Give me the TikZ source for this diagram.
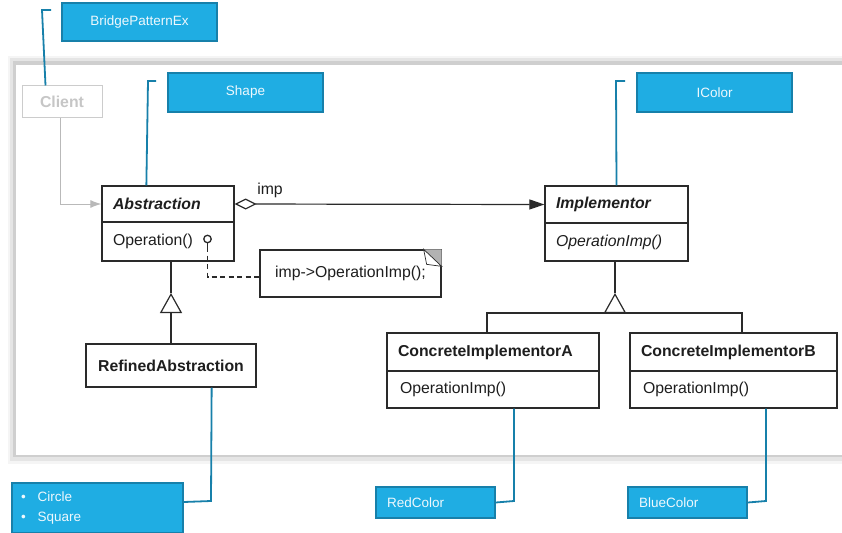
\documentclass[tikz,border=0pt]{standalone}
\usepackage{fontspec}
\setmainfont{Liberation Sans}
\usetikzlibrary{arrows.meta,calc}
\definecolor{calfill}{HTML}{1FADE3}
\definecolor{calline}{HTML}{1780AA}
\definecolor{caltext}{HTML}{EEF8FD}
\definecolor{umlline}{HTML}{2A2A2A}
\definecolor{umltext}{HTML}{1E1E1E}
\newcommand\umlfont{\fontsize{15.8}{18}\selectfont}
\newcommand\calfont{\fontsize{13.5}{20}\selectfont}
\begin{document}
\begin{tikzpicture}[x=1pt,y=-1pt,
  callout/.style={draw=calline, fill=calfill, line width=1.5pt, text=caltext, font=\calfont, inner ysep=0pt},
  callline/.style={draw=calline, line width=1.8pt},
  cls/.style={draw=umlline, line width=1.3pt, text=umltext, font=\umlfont, inner xsep=11pt, inner ysep=0pt, align=left},
  umlconn/.style={draw=umlline, line width=1.2pt},
  gentri/.style={umlconn, -{Triangle[open, length=20pt, width=22pt]}}
]
\path[use as bounding box] (0,0) rectangle (842,532);
\clip (0,0) rectangle (842,532);
% frame with shadow
\fill[gray!8] (8,56) rectangle (842,464);
\fill[gray!20] (10,58) rectangle (842,461);
\fill[gray!38] (13,61) rectangle (842,457);
\fill[white] (16,65) rectangle (842,455);

% client
\node[draw=gray!40, line width=1pt, minimum width=80pt, minimum height=31pt, text=gray!45, font=\umlfont\bfseries] (client) at (62,101.5) {Client};

% Abstraction
\node[cls, text width=110pt, minimum height=36pt, font=\umlfont\bfseries\itshape] (absH) at (168,204) {Abstraction};
\node[cls, text width=110pt, minimum height=39pt] (absB) at (168,241.5) {Operation()};
% Implementor
\node[cls, text width=121pt, minimum height=37pt, font=\umlfont\bfseries\itshape] (implH) at (616.5,204.5) {Implementor};
\node[cls, text width=121pt, minimum height=38pt, font=\umlfont\itshape] (implB) at (616.5,242) {OperationImp()};
% Refined
\node[cls, text width=148pt, minimum height=43pt, align=center, font=\umlfont\bfseries] (refined) at (171,365.5) {RefinedAbstraction};
% Concrete A
\node[cls, text width=190pt, minimum height=38pt, font=\umlfont\bfseries] (cAH) at (493,352) {ConcreteImplementorA};
\node[cls, minimum height=37pt, inner xsep=13pt, text width=186pt] (cAB) at (493,389.5) {OperationImp()};
% Concrete B
\node[cls, text width=185pt, minimum height=38pt, font=\umlfont\bfseries] (cBH) at (733.5,352) {ConcreteImplementorB};
\node[cls, minimum height=37pt, inner xsep=13pt, text width=181pt] (cBB) at (733.5,389.5) {OperationImp()};

% note
\node[draw=umlline, line width=1.3pt, minimum width=181pt, minimum height=47pt, text=umltext, font=\umlfont] (note) at (350.5,273.5) {imp->OperationImp();};
\fill[gray!60] (note.north east) -- ++(-18,0) -- ++(18,17) -- cycle;
\draw[umlline, line width=0.7pt, fill=white] ([xshift=-18pt]note.north east) -- ++(18,17) -- ++(-15,-2) -- cycle;

% lollipop and dashed link
\node[circle, draw=umlline, line width=1.3pt, minimum size=7.5pt, inner sep=0pt] (lolli) at (207.5,239) {};
\coordinate (stem) at (207.5,247);
\draw[umlconn] (lolli.south) -- (stem);
\draw[umlconn, dash pattern=on 5pt off 3.5pt] (stem) |- ([yshift=-3.5pt]note.west);

% client arrow
\draw[draw=gray!55, line width=1pt, -{Latex[length=11pt, width=8pt]}] ([xshift=-2pt]client.south) |- (absH.west);

% association
\draw[umlconn, {Diamond[open, length=22pt, width=11pt]}-{Triangle[length=15pt, width=10pt]}] (absH.east) -- (implH.west);
\node[text=umltext, font=\umlfont, inner sep=0pt] (implabel) at (270,190) {imp};

% generalization Abstraction
\coordinate (apexA) at (171,293);
\draw[umlconn] (absB.south -| apexA) -- (apexA);
\draw[gentri] (refined.north) -- (apexA);

% generalization Implementor
\coordinate (apexB) at (615,293);
\coordinate (barB) at (615,313);
\draw[umlconn] (implB.south -| apexB) -- (apexB);
\draw[gentri] (barB) -- (apexB);
\draw[umlconn] ([xshift=-6pt]cAH.north) |- (barB) -| ([xshift=8.5pt]cBH.north);

% callouts
\node[callout, minimum width=155pt, minimum height=38pt] (cBridge) at (139.5,22) {BridgePatternEx};
\node[callout, minimum width=155pt, minimum height=39pt] (cShape) at (245.5,92.5) {Shape};
\node[callout, minimum width=155pt, minimum height=39pt] (cIColor) at (714.5,92.5) {IColor};
\node[callout, text width=153pt, inner xsep=9pt, minimum height=50pt, align=left] (cShapes) at (97.5,508) {\textbullet\hspace{12pt}Circle\\\textbullet\hspace{12pt}Square};
\node[callout, text width=97pt, inner xsep=11pt, minimum height=31pt, align=left] (cRed) at (435.5,502.5) {RedColor};
\node[callout, text width=97pt, inner xsep=11pt, minimum height=31pt, align=left] (cBlue) at (687.5,502.5) {BlueColor};

% callout connectors
\coordinate (bkB) at (51,10);
\draw[callline] (bkB) -- (42,10) -- ([xshift=24pt]client.north west);
\coordinate (bkS) at (156,81);
\draw[callline] (bkS) -- (148,81) -- ([xshift=45pt]absH.north west);
\coordinate (bkI) at (625,81);
\draw[callline] (bkI) -- (616,81) -- (implH.north);
\draw[callline] ([yshift=6pt]cShapes.east) -- (211,501) -- ([xshift=-45pt]refined.south east);
\draw[callline] (cRed.east) -- (514,501) -- ([xshift=21pt]cAB.south);
\draw[callline] (cBlue.east) -- (766,501) -- ([xshift=32.5pt]cBB.south);
\end{tikzpicture}
\end{document}
